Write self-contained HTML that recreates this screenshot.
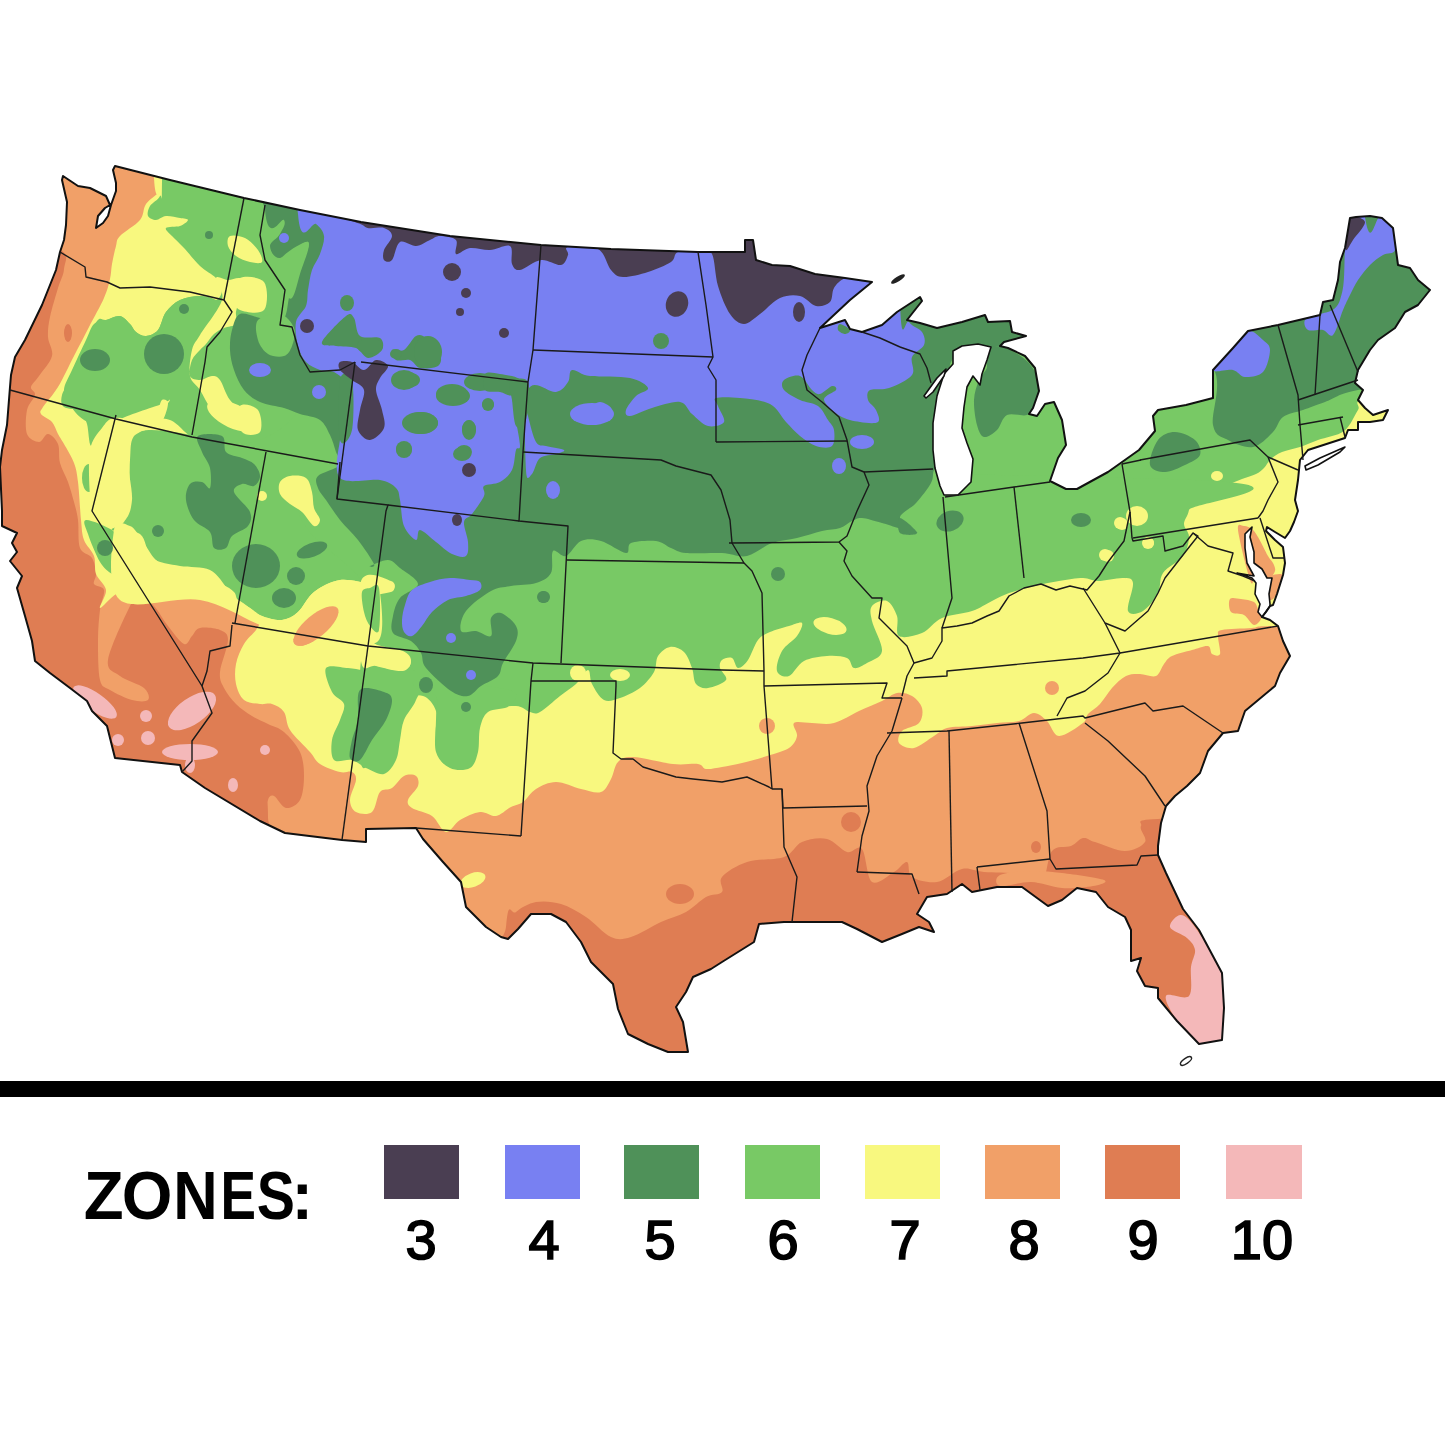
<!DOCTYPE html>
<html><head><meta charset="utf-8"><style>
html,body{margin:0;padding:0;background:#fff;}
body{width:1445px;height:1445px;overflow:hidden;position:relative;}
svg{position:absolute;left:0;top:0;}
</style></head><body>
<svg width="1445" height="1445" viewBox="0 0 1445 1445">
<defs><clipPath id="us"><path d="M62,180 L63,176 L78,186 L90,188 L98,192 L106,196 L110,205 L105,208 L98,216 L96,228 L103,223 L108,216 L111,205 L116,191 L116,183 L113,170 L115,166 L170,180 L244,198 L300,210 L361,222 L450,236 L541,245 L611,249 L698,252 L745,252 L745,240 L753,240 L756,260 L772,265 L790,266 L815,274 L845,278 L872,282 L850,300 L835,314 L820,328 L845,320 L850,329 L862,332 L882,325 L897,312 L920,297 L922,301 L907,320 L920,323 L937,328 L962,322 L985,315 L988,322 L1010,321 L1012,332 L1026,336 L1004,342 L1000,346 L1008,348 L1025,356 L1035,368 L1039,391 L1033,408 L1029,414 L1037,416 L1045,404 L1054,402 L1062,420 L1066,445 L1058,458 L1050,481 L1066,489 L1077,489 L1108,472 L1139,450 L1155,431 L1153,416 L1158,410 L1186,405 L1213,398 L1213,370 L1233,348 L1248,331 L1278,325 L1320,315 L1323,302 L1333,300 L1338,280 L1340,262 L1345,248 L1350,218 L1356,217 L1370,216 L1382,218 L1393,228 L1398,265 L1410,268 L1418,280 L1430,290 L1418,305 L1405,312 L1395,328 L1378,340 L1370,350 L1358,370 L1355,383 L1363,390 L1358,400 L1365,408 L1373,415 L1388,410 L1383,420 L1370,422 L1358,422 L1358,430 L1348,430 L1345,438 L1308,450 L1300,460 L1298,480 L1295,500 L1298,511 L1294,522 L1290,531 L1285,538 L1275,532 L1267,527 L1266,531 L1275,540 L1283,547 L1285,563 L1283,575 L1277,594 L1273,605 L1270,606 L1266,612 L1262,617 L1270,620 L1278,626 L1283,641 L1290,656 L1280,673 L1275,686 L1245,711 L1238,731 L1223,733 L1208,751 L1200,773 L1187,786 L1175,796 L1166,806 L1161,823 L1158,846 L1158,855 L1166,873 L1183,909 L1199,930 L1222,973 L1224,1008 L1222,1040 L1199,1044 L1177,1021 L1158,998 L1158,988 L1145,986 L1137,971 L1141,958 L1131,961 L1131,930 L1125,917 L1108,907 L1096,892 L1077,888 L1062,900 L1048,906 L1022,887 L997,887 L972,892 L962,884 L947,894 L927,897 L917,914 L929,922 L934,932 L919,927 L902,934 L882,942 L857,929 L842,922 L812,922 L784,922 L759,924 L754,942 L722,962 L711,969 L693,977 L686,992 L676,1007 L683,1022 L688,1052 L668,1052 L648,1044 L628,1034 L618,1009 L613,984 L591,962 L581,942 L566,922 L551,914 L531,914 L518,929 L508,939 L501,937 L486,927 L466,907 L461,882 L443,862 L423,839 L416,828 L366,829 L366,842 L342,840 L285,833 L260,821 L205,788 L182,772 L180,765 L115,758 L112,746 L107,726 L92,711 L87,701 L70,688 L50,673 L35,661 L32,641 L25,616 L17,588 L22,576 L10,561 L17,552 L12,543 L17,533 L2,526 L2,511 L0,467 L2,450 L7,425 L10,387 L11,375 L15,357 L25,340 L42,305 L56,270 L60,252 L64,240 L66,225 L67,202Z"/></clipPath>
</defs>
<rect width="1445" height="1445" fill="#fff"/>
<g clip-path="url(#us)">
<rect x="0" y="0" width="1445" height="1100" fill="#f1a068"/>
<path d="M0.0,240.0 C10.0,131.7 49.3,245.2 60.0,250.0 C70.7,254.8 64.3,262.7 64.0,269.0 C63.7,275.3 60.3,280.0 58.0,288.0 C55.7,296.0 51.7,308.8 50.0,317.0 C48.3,325.2 47.7,330.5 48.0,337.0 C48.3,343.5 53.5,349.5 52.0,356.0 C50.5,362.5 42.5,370.8 39.0,376.0 C35.5,381.2 31.7,383.8 31.0,387.0 C30.3,390.2 35.7,391.2 35.0,395.0 C34.3,398.8 28.3,403.5 27.0,410.0 C25.7,416.5 25.0,428.7 27.0,434.0 C29.0,439.3 35.5,442.0 39.0,442.0 C42.5,442.0 44.8,433.7 48.0,434.0 C51.2,434.3 56.0,439.2 58.0,444.0 C60.0,448.8 58.3,456.7 60.0,463.0 C61.7,469.3 65.7,475.5 68.0,482.0 C70.3,488.5 72.3,495.7 74.0,502.0 C75.7,508.3 77.0,512.3 78.0,520.0 C79.0,527.7 77.7,541.7 80.0,548.0 C82.3,554.3 89.3,553.7 92.0,558.0 C94.7,562.3 95.7,569.7 96.0,574.0 C96.3,578.3 92.7,581.3 94.0,584.0 C95.3,586.7 103.0,585.7 104.0,590.0 C105.0,594.3 101.0,601.7 100.0,610.0 C99.0,618.3 98.0,628.3 98.0,640.0 C98.0,651.7 98.0,671.7 100.0,680.0 C102.0,688.3 104.7,686.7 110.0,690.0 C115.3,693.3 125.7,698.3 132.0,700.0 C138.3,701.7 146.0,702.0 148.0,700.0 C150.0,698.0 148.7,692.0 144.0,688.0 C139.3,684.0 126.0,680.7 120.0,676.0 C114.0,671.3 106.3,671.7 108.0,660.0 C109.7,648.3 124.7,616.7 130.0,606.0 C135.3,595.3 136.0,596.0 140.0,596.0 C144.0,596.0 149.3,601.0 154.0,606.0 C158.7,611.0 163.0,619.7 168.0,626.0 C173.0,632.3 180.0,642.3 184.0,644.0 C188.0,645.7 189.3,638.7 192.0,636.0 C194.7,633.3 195.3,629.0 200.0,628.0 C204.7,627.0 215.3,628.0 220.0,630.0 C224.7,632.0 228.0,633.0 228.0,640.0 C228.0,647.0 220.7,664.0 220.0,672.0 C219.3,680.0 221.3,682.7 224.0,688.0 C226.7,693.3 231.3,699.3 236.0,704.0 C240.7,708.7 246.7,712.7 252.0,716.0 C257.3,719.3 262.7,721.3 268.0,724.0 C273.3,726.7 278.7,727.3 284.0,732.0 C289.3,736.7 296.7,744.7 300.0,752.0 C303.3,759.3 304.0,768.0 304.0,776.0 C304.0,784.0 303.0,794.7 300.0,800.0 C297.0,805.3 290.3,808.7 286.0,808.0 C281.7,807.3 277.0,797.3 274.0,796.0 C271.0,794.7 269.0,796.3 268.0,800.0 C267.0,803.7 268.0,801.3 268.0,818.0 C268.0,834.7 312.7,886.3 268.0,900.0 C223.3,913.7 44.7,1010.0 0.0,900.0 C-44.7,790.0 -10.0,348.3 0.0,240.0Z" fill="#df7d53"/>
<ellipse cx="68.0" cy="333.0" rx="4.0" ry="9.0" transform="rotate(0 68.0 333.0)" fill="#df7d53"/>
<path d="M506.0,927.0 C508.7,895.7 511.0,916.2 516.0,912.0 C521.0,907.8 528.5,903.3 536.0,902.0 C543.5,900.7 552.7,901.5 561.0,904.0 C569.3,906.5 577.7,911.5 586.0,917.0 C594.3,922.5 603.5,933.7 611.0,937.0 C618.5,940.3 622.7,939.5 631.0,937.0 C639.3,934.5 651.8,926.2 661.0,922.0 C670.2,917.8 678.5,916.2 686.0,912.0 C693.5,907.8 700.0,900.3 706.0,897.0 C712.0,893.7 719.3,895.3 722.0,892.0 C724.7,888.7 717.8,882.0 722.0,877.0 C726.2,872.0 736.7,865.3 747.0,862.0 C757.3,858.7 774.8,860.3 784.0,857.0 C793.2,853.7 794.8,845.0 802.0,842.0 C809.2,839.0 819.5,837.3 827.0,839.0 C834.5,840.7 841.2,850.3 847.0,852.0 C852.8,853.7 857.8,844.0 862.0,849.0 C866.2,854.0 866.7,878.2 872.0,882.0 C877.3,885.8 888.2,875.3 894.0,872.0 C899.8,868.7 904.0,861.2 907.0,862.0 C910.0,862.8 907.0,873.7 912.0,877.0 C917.0,880.3 928.7,883.3 937.0,882.0 C945.3,880.7 954.2,870.7 962.0,869.0 C969.8,867.3 974.0,871.2 984.0,872.0 C994.0,872.8 1012.3,872.3 1022.0,874.0 C1031.7,875.7 1037.0,885.8 1042.0,882.0 C1047.0,878.2 1047.2,857.0 1052.0,851.0 C1056.8,845.0 1065.8,848.2 1071.0,846.0 C1076.2,843.8 1079.0,838.7 1083.0,838.0 C1087.0,837.3 1088.0,839.8 1095.0,842.0 C1102.0,844.2 1116.7,851.0 1125.0,851.0 C1133.3,851.0 1142.3,846.2 1145.0,842.0 C1147.7,837.8 1138.8,829.8 1141.0,826.0 C1143.2,822.2 1131.5,820.2 1158.0,819.0 C1184.5,817.8 1276.3,772.2 1300.0,819.0 C1323.7,865.8 1433.3,1053.2 1300.0,1100.0 C1166.7,1146.8 632.3,1128.8 500.0,1100.0 C367.7,1071.2 503.3,958.3 506.0,927.0Z" fill="#df7d53"/>
<ellipse cx="680.0" cy="894.0" rx="14.0" ry="10.0" transform="rotate(0 680.0 894.0)" fill="#df7d53"/>
<ellipse cx="851.0" cy="822.0" rx="10.0" ry="10.0" transform="rotate(0 851.0 822.0)" fill="#df7d53"/>
<ellipse cx="1036.0" cy="847.0" rx="5.0" ry="6.0" transform="rotate(0 1036.0 847.0)" fill="#df7d53"/>
<path d="M1000.0,875.0 C1005.2,872.5 1020.7,871.3 1031.0,871.0 C1041.3,870.7 1049.8,871.5 1062.0,873.0 C1074.2,874.5 1098.8,877.8 1104.0,880.0 C1109.2,882.2 1100.0,884.7 1093.0,886.0 C1086.0,887.3 1072.3,888.7 1062.0,888.0 C1051.7,887.3 1041.3,882.3 1031.0,882.0 C1020.7,881.7 1005.2,887.2 1000.0,886.0 C994.8,884.8 994.8,877.5 1000.0,875.0Z" fill="#f1a068"/>
<ellipse cx="95.0" cy="702.0" rx="26.0" ry="9.0" transform="rotate(35.0 95.0 702.0)" fill="#f4b8b9"/>
<ellipse cx="118.0" cy="740.0" rx="6.0" ry="6.0" transform="rotate(0 118.0 740.0)" fill="#f4b8b9"/>
<ellipse cx="146.0" cy="716.0" rx="6.0" ry="6.0" transform="rotate(0 146.0 716.0)" fill="#f4b8b9"/>
<ellipse cx="148.0" cy="738.0" rx="7.0" ry="7.0" transform="rotate(0 148.0 738.0)" fill="#f4b8b9"/>
<ellipse cx="192.0" cy="711.0" rx="28.0" ry="13.0" transform="rotate(-35.0 192.0 711.0)" fill="#f4b8b9"/>
<ellipse cx="190.0" cy="752.0" rx="28.0" ry="8.0" transform="rotate(0 190.0 752.0)" fill="#f4b8b9"/>
<ellipse cx="190.0" cy="765.0" rx="5.0" ry="8.0" transform="rotate(0 190.0 765.0)" fill="#f4b8b9"/>
<ellipse cx="265.0" cy="750.0" rx="5.0" ry="5.0" transform="rotate(0 265.0 750.0)" fill="#f4b8b9"/>
<ellipse cx="233.0" cy="785.0" rx="5.0" ry="7.0" transform="rotate(0 233.0 785.0)" fill="#f4b8b9"/>
<path d="M1170.0,927.0 C1169.0,923.2 1176.5,914.5 1181.0,915.0 C1185.5,915.5 1189.8,919.3 1197.0,930.0 C1204.2,940.7 1219.2,959.8 1224.0,979.0 C1228.8,998.2 1230.2,1033.2 1226.0,1045.0 C1221.8,1056.8 1207.2,1054.0 1199.0,1050.0 C1190.8,1046.0 1182.5,1030.0 1177.0,1021.0 C1171.5,1012.0 1164.0,1000.2 1166.0,996.0 C1168.0,991.8 1184.8,1000.8 1189.0,996.0 C1193.2,991.2 1190.0,974.7 1191.0,967.0 C1192.0,959.3 1195.7,954.8 1195.0,950.0 C1194.3,945.2 1191.2,941.8 1187.0,938.0 C1182.8,934.2 1171.0,930.8 1170.0,927.0Z" fill="#f4b8b9"/>
<path d="M150.0,0.0 C-65.2,29.7 152.3,146.3 154.0,178.0 C155.7,209.7 161.3,185.7 160.0,190.0 C158.7,194.3 149.3,199.0 146.0,204.0 C142.7,209.0 144.3,214.7 140.0,220.0 C135.7,225.3 124.0,231.7 120.0,236.0 C116.0,240.3 117.3,241.3 116.0,246.0 C114.7,250.7 113.0,258.5 112.0,264.0 C111.0,269.5 111.3,273.3 110.0,279.0 C108.7,284.7 107.5,290.0 104.0,298.0 C100.5,306.0 94.0,317.3 89.0,327.0 C84.0,336.7 79.2,346.0 74.0,356.0 C68.8,366.0 63.2,378.5 58.0,387.0 C52.8,395.5 45.8,402.5 43.0,407.0 C40.2,411.5 39.5,411.5 41.0,414.0 C42.5,416.5 49.2,418.7 52.0,422.0 C54.8,425.3 56.0,430.3 58.0,434.0 C60.0,437.7 61.3,439.2 64.0,444.0 C66.7,448.8 71.7,456.7 74.0,463.0 C76.3,469.3 76.8,472.5 78.0,482.0 C79.2,491.5 80.0,510.3 81.0,520.0 C82.0,529.7 81.8,534.0 84.0,540.0 C86.2,546.0 92.0,550.3 94.0,556.0 C96.0,561.7 94.0,568.3 96.0,574.0 C98.0,579.7 105.3,584.3 106.0,590.0 C106.7,595.7 98.3,607.3 100.0,608.0 C101.7,608.7 110.0,597.7 116.0,594.0 C122.0,590.3 128.0,587.3 136.0,586.0 C144.0,584.7 153.3,585.0 164.0,586.0 C174.7,587.0 188.7,589.0 200.0,592.0 C211.3,595.0 223.3,600.7 232.0,604.0 C240.7,607.3 247.3,609.3 252.0,612.0 C256.7,614.7 259.3,617.0 260.0,620.0 C260.7,623.0 258.7,626.0 256.0,630.0 C253.3,634.0 247.3,638.3 244.0,644.0 C240.7,649.7 237.3,657.3 236.0,664.0 C234.7,670.7 234.7,678.0 236.0,684.0 C237.3,690.0 240.0,696.7 244.0,700.0 C248.0,703.3 255.3,703.3 260.0,704.0 C264.7,704.7 268.0,702.7 272.0,704.0 C276.0,705.3 281.0,707.7 284.0,712.0 C287.0,716.3 285.7,723.3 290.0,730.0 C294.3,736.7 305.0,746.3 310.0,752.0 C315.0,757.7 315.0,760.7 320.0,764.0 C325.0,767.3 334.7,770.7 340.0,772.0 C345.3,773.3 349.3,770.7 352.0,772.0 C354.7,773.3 356.3,775.3 356.0,780.0 C355.7,784.7 350.0,794.7 350.0,800.0 C350.0,805.3 352.3,810.0 356.0,812.0 C359.7,814.0 368.0,815.3 372.0,812.0 C376.0,808.7 376.7,796.0 380.0,792.0 C383.3,788.0 388.0,790.7 392.0,788.0 C396.0,785.3 400.0,778.0 404.0,776.0 C408.0,774.0 413.7,774.3 416.0,776.0 C418.3,777.7 419.3,782.0 418.0,786.0 C416.7,790.0 409.0,796.3 408.0,800.0 C407.0,803.7 408.0,805.3 412.0,808.0 C416.0,810.7 426.3,812.0 432.0,816.0 C437.7,820.0 441.3,831.3 446.0,832.0 C450.7,832.7 454.3,823.3 460.0,820.0 C465.7,816.7 474.0,812.7 480.0,812.0 C486.0,811.3 490.8,816.8 496.0,816.0 C501.2,815.2 506.5,809.3 511.0,807.0 C515.5,804.7 518.8,805.0 523.0,802.0 C527.2,799.0 530.5,792.3 536.0,789.0 C541.5,785.7 548.5,782.0 556.0,782.0 C563.5,782.0 573.5,787.3 581.0,789.0 C588.5,790.7 596.0,793.7 601.0,792.0 C606.0,790.3 608.2,784.0 611.0,779.0 C613.8,774.0 614.3,765.7 618.0,762.0 C621.7,758.3 623.8,756.7 633.0,757.0 C642.2,757.3 662.2,762.8 673.0,764.0 C683.8,765.2 692.5,763.2 698.0,764.0 C703.5,764.8 702.0,768.5 706.0,769.0 C710.0,769.5 716.0,768.0 722.0,767.0 C728.0,766.0 734.5,764.8 742.0,763.0 C749.5,761.2 759.2,758.5 767.0,756.0 C774.8,753.5 784.0,751.3 789.0,748.0 C794.0,744.7 796.2,740.2 797.0,736.0 C797.8,731.8 791.5,725.2 794.0,723.0 C796.5,720.8 805.3,723.0 812.0,723.0 C818.7,723.0 826.2,725.0 834.0,723.0 C841.8,721.0 851.0,714.7 859.0,711.0 C867.0,707.3 875.7,704.0 882.0,701.0 C888.3,698.0 892.0,693.8 897.0,693.0 C902.0,692.2 907.8,693.5 912.0,696.0 C916.2,698.5 920.8,703.5 922.0,708.0 C923.2,712.5 922.3,719.2 919.0,723.0 C915.7,726.8 905.3,727.7 902.0,731.0 C898.7,734.3 897.0,740.2 899.0,743.0 C901.0,745.8 908.2,749.2 914.0,748.0 C919.8,746.8 928.5,739.3 934.0,736.0 C939.5,732.7 940.7,729.7 947.0,728.0 C953.3,726.3 963.7,726.8 972.0,726.0 C980.3,725.2 989.2,723.8 997.0,723.0 C1004.8,722.2 1012.8,722.7 1019.0,721.0 C1025.2,719.3 1029.3,713.0 1034.0,713.0 C1038.7,713.0 1042.8,717.2 1047.0,721.0 C1051.2,724.8 1053.0,735.7 1059.0,736.0 C1065.0,736.3 1078.2,726.7 1083.0,723.0 C1087.8,719.3 1085.2,717.2 1088.0,714.0 C1090.8,710.8 1096.0,708.3 1100.0,704.0 C1104.0,699.7 1107.7,692.7 1112.0,688.0 C1116.3,683.3 1121.3,678.3 1126.0,676.0 C1130.7,673.7 1135.0,674.0 1140.0,674.0 C1145.0,674.0 1152.0,677.7 1156.0,676.0 C1160.0,674.3 1161.3,667.3 1164.0,664.0 C1166.7,660.7 1167.3,658.3 1172.0,656.0 C1176.7,653.7 1186.0,651.7 1192.0,650.0 C1198.0,648.3 1204.7,645.3 1208.0,646.0 C1211.3,646.7 1210.0,652.7 1212.0,654.0 C1214.0,655.3 1219.0,657.0 1220.0,654.0 C1221.0,651.0 1217.7,640.0 1218.0,636.0 C1218.3,632.0 1216.3,631.3 1222.0,630.0 C1227.7,628.7 1242.3,628.7 1252.0,628.0 C1261.7,627.3 1247.8,626.3 1280.0,626.0 C1312.2,625.7 1417.5,730.3 1445.0,626.0 C1472.5,521.7 1660.8,104.3 1445.0,0.0 C1229.2,-104.3 365.2,-29.7 150.0,0.0Z" fill="#f8f87f"/>
<ellipse cx="473.0" cy="880.0" rx="13.0" ry="7.0" transform="rotate(-20.0 473.0 880.0)" fill="#f8f87f"/>
<ellipse cx="316.0" cy="626.0" rx="28.0" ry="11.0" transform="rotate(-40.0 316.0 626.0)" fill="#f1a068"/>
<ellipse cx="767.0" cy="726.0" rx="8.0" ry="8.0" transform="rotate(0 767.0 726.0)" fill="#f1a068"/>
<ellipse cx="1052.0" cy="688.0" rx="7.0" ry="7.0" transform="rotate(0 1052.0 688.0)" fill="#f1a068"/>
<path d="M1238.0,530.0 C1237.0,521.0 1241.7,526.2 1244.0,526.0 C1246.3,525.8 1249.7,527.2 1252.0,529.0 C1254.3,530.8 1255.3,532.5 1258.0,537.0 C1260.7,541.5 1265.5,551.7 1268.0,556.0 C1270.5,560.3 1271.8,560.5 1273.0,563.0 C1274.2,565.5 1275.8,568.5 1275.0,571.0 C1274.2,573.5 1271.2,579.0 1268.0,578.0 C1264.8,577.0 1258.3,565.0 1256.0,565.0 C1253.7,565.0 1255.0,575.5 1254.0,578.0 C1253.0,580.5 1252.7,588.0 1250.0,580.0 C1247.3,572.0 1239.0,539.0 1238.0,530.0Z" fill="#f1a068"/>
<path d="M1266.0,578.0 C1268.5,575.5 1281.2,572.3 1283.0,575.0 C1284.8,577.7 1279.2,589.8 1277.0,594.0 C1274.8,598.2 1271.5,600.7 1270.0,600.0 C1268.5,599.3 1268.7,593.7 1268.0,590.0 C1267.3,586.3 1263.5,580.5 1266.0,578.0Z" fill="#f1a068"/>
<path d="M1230.0,599.0 C1231.7,596.8 1237.0,598.5 1241.0,599.0 C1245.0,599.5 1251.2,600.3 1254.0,602.0 C1256.8,603.7 1256.7,606.5 1258.0,609.0 C1259.3,611.5 1262.7,614.3 1262.0,617.0 C1261.3,619.7 1257.0,625.3 1254.0,625.0 C1251.0,624.7 1247.8,617.2 1244.0,615.0 C1240.2,612.8 1233.3,614.7 1231.0,612.0 C1228.7,609.3 1228.3,601.2 1230.0,599.0Z" fill="#f1a068"/>
<path d="M162.0,0.0 C-51.8,30.0 162.3,147.3 162.0,180.0 C161.7,212.7 162.0,191.7 160.0,196.0 C158.0,200.3 152.0,202.7 150.0,206.0 C148.0,209.3 147.0,213.7 148.0,216.0 C149.0,218.3 153.0,220.0 156.0,220.0 C159.0,220.0 162.0,216.3 166.0,216.0 C170.0,215.7 176.3,217.3 180.0,218.0 C183.7,218.7 188.0,218.7 188.0,220.0 C188.0,221.3 183.7,224.7 180.0,226.0 C176.3,227.3 167.3,226.3 166.0,228.0 C164.7,229.7 169.0,232.7 172.0,236.0 C175.0,239.3 179.3,243.0 184.0,248.0 C188.7,253.0 194.7,261.0 200.0,266.0 C205.3,271.0 212.3,274.0 216.0,278.0 C219.7,282.0 222.0,286.3 222.0,290.0 C222.0,293.7 219.7,299.0 216.0,300.0 C212.3,301.0 206.0,296.0 200.0,296.0 C194.0,296.0 185.7,297.3 180.0,300.0 C174.3,302.7 169.7,307.0 166.0,312.0 C162.3,317.0 161.3,326.0 158.0,330.0 C154.7,334.0 149.7,335.7 146.0,336.0 C142.3,336.3 138.7,334.0 136.0,332.0 C133.3,330.0 132.7,326.7 130.0,324.0 C127.3,321.3 124.0,316.7 120.0,316.0 C116.0,315.3 110.3,318.7 106.0,320.0 C101.7,321.3 97.3,320.7 94.0,324.0 C90.7,327.3 89.7,332.3 86.0,340.0 C82.3,347.7 75.7,361.7 72.0,370.0 C68.3,378.3 64.3,384.2 64.0,390.0 C63.7,395.8 66.7,400.0 70.0,405.0 C73.3,410.0 77.3,415.8 84.0,420.0 C90.7,424.2 100.7,430.3 110.0,430.0 C119.3,429.7 131.7,421.3 140.0,418.0 C148.3,414.7 150.0,408.0 160.0,410.0 C170.0,412.0 176.7,421.3 200.0,430.0 C223.3,438.7 270.0,453.3 300.0,462.0 C330.0,470.7 363.3,480.7 380.0,482.0 C396.7,483.3 363.3,475.3 400.0,470.0 C436.7,464.7 546.3,453.3 600.0,450.0 C653.7,446.7 701.7,432.3 722.0,450.0 C742.3,467.7 709.0,537.7 722.0,556.0 C735.0,574.3 770.3,569.3 800.0,560.0 C829.7,550.7 866.7,510.0 900.0,500.0 C933.3,490.0 951.2,500.0 1000.0,500.0 C1048.8,500.0 1159.8,500.7 1193.0,500.0 C1226.2,499.3 1195.7,498.0 1199.0,496.0 C1202.3,494.0 1208.3,489.8 1213.0,488.0 C1217.7,486.2 1222.2,486.5 1227.0,485.0 C1231.8,483.5 1237.2,480.8 1242.0,479.0 C1246.8,477.2 1252.3,475.8 1256.0,474.0 C1259.7,472.2 1261.5,470.5 1264.0,468.0 C1266.5,465.5 1268.0,461.7 1271.0,459.0 C1274.0,456.3 1277.2,454.0 1282.0,452.0 C1286.8,450.0 1294.0,449.0 1300.0,447.0 C1306.0,445.0 1310.7,442.7 1318.0,440.0 C1325.3,437.3 1337.3,436.0 1344.0,431.0 C1350.7,426.0 1354.5,415.2 1358.0,410.0 C1361.5,404.8 1350.5,401.7 1365.0,400.0 C1379.5,398.3 1431.7,466.7 1445.0,400.0 C1458.3,333.3 1658.8,66.7 1445.0,0.0 C1231.2,-66.7 375.8,-30.0 162.0,0.0Z" fill="#78c965"/>
<path d="M64.0,407.0 C60.8,404.3 60.7,400.2 62.0,395.0 C63.3,389.8 68.5,383.7 72.0,376.0 C75.5,368.3 78.8,358.2 83.0,349.0 C87.2,339.8 93.2,325.8 97.0,321.0 C100.8,316.2 102.2,320.8 106.0,320.0 C109.8,319.2 116.0,315.3 120.0,316.0 C124.0,316.7 127.3,321.3 130.0,324.0 C132.7,326.7 133.3,330.0 136.0,332.0 C138.7,334.0 142.3,336.3 146.0,336.0 C149.7,335.7 154.7,334.0 158.0,330.0 C161.3,326.0 162.3,317.0 166.0,312.0 C169.7,307.0 174.3,302.7 180.0,300.0 C185.7,297.3 194.0,296.0 200.0,296.0 C206.0,296.0 211.3,297.3 216.0,300.0 C220.7,302.7 224.7,308.0 228.0,312.0 C231.3,316.0 232.3,319.3 236.0,324.0 C239.7,328.7 239.3,327.3 250.0,340.0 C260.7,352.7 298.3,383.3 300.0,400.0 C301.7,416.7 276.7,433.3 260.0,440.0 C243.3,446.7 215.0,443.3 200.0,440.0 C185.0,436.7 180.0,423.7 170.0,420.0 C160.0,416.3 148.3,419.0 140.0,418.0 C131.7,417.0 125.8,414.0 120.0,414.0 C114.2,414.0 108.2,414.7 105.0,418.0 C101.8,421.3 103.3,429.3 101.0,434.0 C98.7,438.7 93.3,447.7 91.0,446.0 C88.7,444.3 88.7,429.8 87.0,424.0 C85.3,418.2 84.8,413.8 81.0,411.0 C77.2,408.2 67.2,409.7 64.0,407.0Z" fill="#78c965"/>
<ellipse cx="89.0" cy="478.0" rx="7.0" ry="14.0" transform="rotate(0 89.0 478.0)" fill="#78c965"/>
<path d="M132.0,436.0 C120.7,446.7 133.3,485.7 132.0,500.0 C130.7,514.3 127.3,517.0 124.0,522.0 C120.7,527.0 109.3,528.0 112.0,530.0 C114.7,532.0 133.3,529.3 140.0,534.0 C146.7,538.7 145.3,552.7 152.0,558.0 C158.7,563.3 170.3,564.0 180.0,566.0 C189.7,568.0 202.0,566.0 210.0,570.0 C218.0,574.0 224.0,584.7 228.0,590.0 C232.0,595.3 232.3,600.3 234.0,602.0 C235.7,603.7 235.3,599.0 238.0,600.0 C240.7,601.0 246.0,605.3 250.0,608.0 C254.0,610.7 256.7,614.0 262.0,616.0 C267.3,618.0 276.0,620.7 282.0,620.0 C288.0,619.3 292.7,616.7 298.0,612.0 C303.3,607.3 307.0,597.3 314.0,592.0 C321.0,586.7 330.7,581.3 340.0,580.0 C349.3,578.7 363.5,583.0 370.0,584.0 C376.5,585.0 377.5,606.0 379.0,586.0 C380.5,566.0 385.8,484.3 379.0,464.0 C372.2,443.7 367.8,468.7 338.0,464.0 C308.2,459.3 234.3,440.7 200.0,436.0 C165.7,431.3 143.3,425.3 132.0,436.0Z" fill="#78c965"/>
<path d="M86.0,520.0 C82.0,520.7 85.7,527.0 88.0,534.0 C90.3,541.0 96.0,555.3 100.0,562.0 C104.0,568.7 108.0,571.3 112.0,574.0 C116.0,576.7 121.0,578.7 124.0,578.0 C127.0,577.3 129.3,574.0 130.0,570.0 C130.7,566.0 130.3,559.0 128.0,554.0 C125.7,549.0 118.7,544.0 116.0,540.0 C113.3,536.0 117.0,533.3 112.0,530.0 C107.0,526.7 90.0,519.3 86.0,520.0Z" fill="#78c965"/>
<path d="M361.0,581.0 C363.5,600.3 374.8,591.0 376.0,596.0 C377.2,601.0 368.8,603.5 368.0,611.0 C367.2,618.5 365.2,634.3 371.0,641.0 C376.8,647.7 396.3,647.7 403.0,651.0 C409.7,654.3 411.0,657.7 411.0,661.0 C411.0,664.3 408.8,670.2 403.0,671.0 C397.2,671.8 383.0,667.7 376.0,666.0 C369.0,664.3 363.5,644.8 361.0,661.0 C358.5,677.2 358.5,748.0 361.0,763.0 C363.5,778.0 371.8,757.2 376.0,751.0 C380.2,744.8 381.5,734.3 386.0,726.0 C390.5,717.7 396.8,706.0 403.0,701.0 C409.2,696.0 417.5,694.3 423.0,696.0 C428.5,697.7 433.8,704.3 436.0,711.0 C438.2,717.7 434.8,727.3 436.0,736.0 C437.2,744.7 438.8,758.8 443.0,763.0 C447.2,767.2 455.5,762.2 461.0,761.0 C466.5,759.8 473.5,761.0 476.0,756.0 C478.5,751.0 474.3,738.5 476.0,731.0 C477.7,723.5 479.3,715.2 486.0,711.0 C492.7,706.8 508.7,705.8 516.0,706.0 C523.3,706.2 526.0,711.0 530.0,712.0 C534.0,713.0 535.0,714.7 540.0,712.0 C545.0,709.3 554.0,700.7 560.0,696.0 C566.0,691.3 571.3,688.3 576.0,684.0 C580.7,679.7 585.3,670.0 588.0,670.0 C590.7,670.0 589.3,679.0 592.0,684.0 C594.7,689.0 599.3,697.7 604.0,700.0 C608.7,702.3 614.0,700.0 620.0,698.0 C626.0,696.0 634.3,692.3 640.0,688.0 C645.7,683.7 651.0,677.3 654.0,672.0 C657.0,666.7 655.3,660.2 658.0,656.0 C660.7,651.8 665.7,647.7 670.0,647.0 C674.3,646.3 680.3,648.5 684.0,652.0 C687.7,655.5 690.0,662.7 692.0,668.0 C694.0,673.3 693.3,680.7 696.0,684.0 C698.7,687.3 703.0,688.7 708.0,688.0 C713.0,687.3 724.0,683.3 726.0,680.0 C728.0,676.7 720.7,671.3 720.0,668.0 C719.3,664.7 720.0,661.7 722.0,660.0 C724.0,658.3 729.3,656.7 732.0,658.0 C734.7,659.3 735.3,667.7 738.0,668.0 C740.7,668.3 744.7,664.7 748.0,660.0 C751.3,655.3 754.3,644.7 758.0,640.0 C761.7,635.3 764.8,634.3 770.0,632.0 C775.2,629.7 783.7,627.5 789.0,626.0 C794.3,624.5 800.7,621.3 802.0,623.0 C803.3,624.7 800.3,631.3 797.0,636.0 C793.7,640.7 785.3,645.2 782.0,651.0 C778.7,656.8 775.8,666.8 777.0,671.0 C778.2,675.2 784.5,677.7 789.0,676.0 C793.5,674.3 797.7,664.3 804.0,661.0 C810.3,657.7 819.8,656.5 827.0,656.0 C834.2,655.5 842.5,656.0 847.0,658.0 C851.5,660.0 850.7,667.2 854.0,668.0 C857.3,668.8 862.3,665.8 867.0,663.0 C871.7,660.2 881.2,658.0 882.0,651.0 C882.8,644.0 873.7,628.5 872.0,621.0 C870.3,613.5 869.5,609.3 872.0,606.0 C874.5,602.7 882.8,599.3 887.0,601.0 C891.2,602.7 895.0,610.2 897.0,616.0 C899.0,621.8 894.8,633.2 899.0,636.0 C903.2,638.8 914.8,636.0 922.0,633.0 C929.2,630.0 933.7,621.7 942.0,618.0 C950.3,614.3 963.7,613.8 972.0,611.0 C980.3,608.2 985.8,604.0 992.0,601.0 C998.2,598.0 1002.0,595.5 1009.0,593.0 C1016.0,590.5 1025.7,588.0 1034.0,586.0 C1042.3,584.0 1050.8,582.3 1059.0,581.0 C1067.2,579.7 1076.5,578.0 1083.0,578.0 C1089.5,578.0 1091.3,581.0 1098.0,581.0 C1104.7,581.0 1117.2,577.7 1123.0,578.0 C1128.8,578.3 1132.2,577.5 1133.0,583.0 C1133.8,588.5 1126.3,606.3 1128.0,611.0 C1129.7,615.7 1138.0,614.0 1143.0,611.0 C1148.0,608.0 1154.7,599.3 1158.0,593.0 C1161.3,586.7 1158.8,579.2 1163.0,573.0 C1167.2,566.8 1178.7,562.0 1183.0,556.0 C1187.3,550.0 1188.8,542.3 1189.0,537.0 C1189.2,531.7 1184.0,528.5 1184.0,524.0 C1184.0,519.5 1187.5,517.3 1189.0,510.0 C1190.5,502.7 1331.0,485.0 1193.0,480.0 C1055.0,475.0 499.7,463.2 361.0,480.0 C222.3,496.8 358.5,561.7 361.0,581.0Z" fill="#78c965"/>
<path d="M326.0,668.0 C328.7,664.0 341.7,667.7 348.0,668.0 C354.3,668.3 359.3,670.3 364.0,670.0 C368.7,669.7 370.0,666.0 376.0,666.0 C382.0,666.0 394.0,671.7 400.0,670.0 C406.0,668.3 410.7,660.0 412.0,656.0 C413.3,652.0 411.3,647.7 408.0,646.0 C404.7,644.3 396.7,647.0 392.0,646.0 C387.3,645.0 383.7,641.0 380.0,640.0 C376.3,639.0 363.3,634.0 370.0,640.0 C376.7,646.0 412.3,666.0 420.0,676.0 C427.7,686.0 418.7,692.7 416.0,700.0 C413.3,707.3 406.7,713.3 404.0,720.0 C401.3,726.7 401.3,733.3 400.0,740.0 C398.7,746.7 398.7,754.3 396.0,760.0 C393.3,765.7 389.0,772.7 384.0,774.0 C379.0,775.3 371.3,770.3 366.0,768.0 C360.7,765.7 357.3,761.3 352.0,760.0 C346.7,758.7 337.3,763.3 334.0,760.0 C330.7,756.7 331.0,746.7 332.0,740.0 C333.0,733.3 338.0,726.0 340.0,720.0 C342.0,714.0 345.3,708.7 344.0,704.0 C342.7,699.3 335.0,698.0 332.0,692.0 C329.0,686.0 323.3,672.0 326.0,668.0Z" fill="#78c965"/>
<path d="M420.0,692.0 C422.7,694.7 433.3,691.3 436.0,696.0 C438.7,700.7 436.0,710.7 436.0,720.0 C436.0,729.3 433.7,744.0 436.0,752.0 C438.3,760.0 444.3,765.3 450.0,768.0 C455.7,770.7 465.3,770.7 470.0,768.0 C474.7,765.3 476.3,758.7 478.0,752.0 C479.7,745.3 478.3,734.7 480.0,728.0 C481.7,721.3 483.2,715.7 488.0,712.0 C492.8,708.3 505.5,709.7 509.0,706.0 C512.5,702.3 523.8,694.3 509.0,690.0 C494.2,685.7 434.8,679.7 420.0,680.0 C405.2,680.3 417.3,689.3 420.0,692.0Z" fill="#78c965"/>
<path d="M216.0,278.0 C217.0,274.7 224.0,280.0 228.0,280.0 C232.0,280.0 236.3,277.3 240.0,278.0 C243.7,278.7 246.7,281.7 250.0,284.0 C253.3,286.3 257.7,288.7 260.0,292.0 C262.3,295.3 265.3,301.3 264.0,304.0 C262.7,306.7 256.0,308.0 252.0,308.0 C248.0,308.0 242.7,303.3 240.0,304.0 C237.3,304.7 236.7,308.7 236.0,312.0 C235.3,315.3 238.0,321.3 236.0,324.0 C234.0,326.7 227.7,326.3 224.0,328.0 C220.3,329.7 217.0,331.3 214.0,334.0 C211.0,336.7 208.3,341.3 206.0,344.0 C203.7,346.7 202.3,347.3 200.0,350.0 C197.7,352.7 193.7,355.7 192.0,360.0 C190.3,364.3 188.7,372.7 190.0,376.0 C191.3,379.3 196.3,380.0 200.0,380.0 C203.7,380.0 208.7,376.0 212.0,376.0 C215.3,376.0 217.0,376.0 220.0,380.0 C223.0,384.0 225.0,393.3 230.0,400.0 C235.0,406.7 245.0,415.7 250.0,420.0 C255.0,424.3 259.7,424.0 260.0,426.0 C260.3,428.0 257.0,432.0 252.0,432.0 C247.0,432.0 236.7,429.7 230.0,426.0 C223.3,422.3 217.0,416.0 212.0,410.0 C207.0,404.0 203.7,395.7 200.0,390.0 C196.3,384.3 191.3,382.7 190.0,376.0 C188.7,369.3 190.3,356.8 192.0,350.0 C193.7,343.2 195.0,343.3 200.0,335.0 C205.0,326.7 219.3,309.5 222.0,300.0 C224.7,290.5 215.0,281.3 216.0,278.0Z" fill="#f8f87f"/>
<ellipse cx="233.0" cy="416.0" rx="28.0" ry="12.0" transform="rotate(25.0 233.0 416.0)" fill="#f8f87f"/>
<path d="M230.0,236.0 C232.8,234.7 240.3,235.7 245.0,238.0 C249.7,240.3 255.2,246.0 258.0,250.0 C260.8,254.0 263.3,260.0 262.0,262.0 C260.7,264.0 254.3,263.0 250.0,262.0 C245.7,261.0 239.7,258.7 236.0,256.0 C232.3,253.3 229.0,249.3 228.0,246.0 C227.0,242.7 227.2,237.3 230.0,236.0Z" fill="#f8f87f"/>
<path d="M240.0,278.0 C245.3,275.7 260.0,276.7 264.0,282.0 C268.0,287.3 268.0,305.3 264.0,310.0 C260.0,314.7 245.3,312.3 240.0,310.0 C234.7,307.7 232.0,301.3 232.0,296.0 C232.0,290.7 234.7,280.3 240.0,278.0Z" fill="#f8f87f"/>
<path d="M240.0,406.0 C242.7,402.3 254.7,405.7 258.0,410.0 C261.3,414.3 262.7,428.3 260.0,432.0 C257.3,435.7 245.3,436.3 242.0,432.0 C238.7,427.7 237.3,409.7 240.0,406.0Z" fill="#f8f87f"/>
<path d="M114.0,418.0 C120.3,416.7 133.0,421.0 140.0,420.0 C147.0,419.0 152.3,415.3 156.0,412.0 C159.7,408.7 160.0,401.3 162.0,400.0 C164.0,398.7 168.3,400.0 168.0,404.0 C167.7,408.0 164.7,419.3 160.0,424.0 C155.3,428.7 144.7,429.3 140.0,432.0 C135.3,434.7 133.7,435.3 132.0,440.0 C130.3,444.7 130.7,450.0 130.0,460.0 C129.3,470.0 130.3,490.7 128.0,500.0 C125.7,509.3 120.3,514.0 116.0,516.0 C111.7,518.0 105.7,514.0 102.0,512.0 C98.3,510.0 96.0,506.7 94.0,504.0 C92.0,501.3 90.7,505.0 90.0,496.0 C89.3,487.0 88.0,461.3 90.0,450.0 C92.0,438.7 98.0,433.3 102.0,428.0 C106.0,422.7 107.7,419.3 114.0,418.0Z" fill="#f8f87f"/>
<path d="M114.0,530.0 C115.7,517.7 125.3,524.3 130.0,526.0 C134.7,527.7 137.7,534.3 142.0,540.0 C146.3,545.7 150.7,555.3 156.0,560.0 C161.3,564.7 166.7,565.7 174.0,568.0 C181.3,570.3 192.0,571.3 200.0,574.0 C208.0,576.7 216.3,581.0 222.0,584.0 C227.7,587.0 231.3,589.3 234.0,592.0 C236.7,594.7 235.3,597.3 238.0,600.0 C240.7,602.7 246.0,605.3 250.0,608.0 C254.0,610.7 256.7,614.0 262.0,616.0 C267.3,618.0 276.0,620.7 282.0,620.0 C288.0,619.3 292.7,616.7 298.0,612.0 C303.3,607.3 307.0,597.3 314.0,592.0 C321.0,586.7 330.7,581.3 340.0,580.0 C349.3,578.7 363.5,583.0 370.0,584.0 C376.5,585.0 377.5,576.7 379.0,586.0 C380.5,595.3 385.5,631.0 379.0,640.0 C372.5,649.0 353.2,640.0 340.0,640.0 C326.8,640.0 313.3,642.5 300.0,640.0 C286.7,637.5 276.7,631.7 260.0,625.0 C243.3,618.3 223.3,604.2 200.0,600.0 C176.7,595.8 134.3,611.7 120.0,600.0 C105.7,588.3 112.3,542.3 114.0,530.0Z" fill="#f8f87f"/>
<path d="M290.0,476.0 C294.3,475.3 302.3,475.3 306.0,478.0 C309.7,480.7 310.7,487.0 312.0,492.0 C313.3,497.0 312.7,503.3 314.0,508.0 C315.3,512.7 320.0,517.0 320.0,520.0 C320.0,523.0 317.0,527.3 314.0,526.0 C311.0,524.7 306.0,515.7 302.0,512.0 C298.0,508.3 293.7,507.0 290.0,504.0 C286.3,501.0 281.7,497.7 280.0,494.0 C278.3,490.3 278.3,485.0 280.0,482.0 C281.7,479.0 285.7,476.7 290.0,476.0Z" fill="#f8f87f"/>
<ellipse cx="262.0" cy="496.0" rx="5.0" ry="5.0" transform="rotate(0 262.0 496.0)" fill="#f8f87f"/>
<path d="M361.0,581.0 C366.0,567.7 385.7,579.3 391.0,581.0 C396.3,582.7 395.5,588.5 393.0,591.0 C390.5,593.5 380.2,592.7 376.0,596.0 C371.8,599.3 368.8,603.5 368.0,611.0 C367.2,618.5 365.2,634.3 371.0,641.0 C376.8,647.7 396.3,647.7 403.0,651.0 C409.7,654.3 411.0,657.7 411.0,661.0 C411.0,664.3 408.8,670.2 403.0,671.0 C397.2,671.8 383.0,667.7 376.0,666.0 C369.0,664.3 363.5,675.2 361.0,661.0 C358.5,646.8 356.0,594.3 361.0,581.0Z" fill="#f8f87f"/>
<ellipse cx="578.0" cy="673.0" rx="8.0" ry="8.0" transform="rotate(0 578.0 673.0)" fill="#f8f87f"/>
<ellipse cx="620.0" cy="675.0" rx="10.0" ry="6.0" transform="rotate(0 620.0 675.0)" fill="#f8f87f"/>
<ellipse cx="830.0" cy="626.0" rx="17.0" ry="8.0" transform="rotate(15.0 830.0 626.0)" fill="#f8f87f"/>
<ellipse cx="1108.0" cy="556.0" rx="6.0" ry="6.0" transform="rotate(0 1108.0 556.0)" fill="#f8f87f"/>
<ellipse cx="1148.0" cy="543.0" rx="6.0" ry="6.0" transform="rotate(0 1148.0 543.0)" fill="#f8f87f"/>
<ellipse cx="1120.0" cy="523.0" rx="6.0" ry="6.0" transform="rotate(0 1120.0 523.0)" fill="#f8f87f"/>
<ellipse cx="1137.0" cy="516.0" rx="11.0" ry="10.0" transform="rotate(0 1137.0 516.0)" fill="#f8f87f"/>
<ellipse cx="1122.0" cy="524.0" rx="6.0" ry="6.0" transform="rotate(0 1122.0 524.0)" fill="#f8f87f"/>
<ellipse cx="1149.0" cy="543.0" rx="5.0" ry="5.0" transform="rotate(0 1149.0 543.0)" fill="#f8f87f"/>
<ellipse cx="1105.0" cy="555.0" rx="6.0" ry="6.0" transform="rotate(0 1105.0 555.0)" fill="#f8f87f"/>
<path d="M362.0,592.0 C363.0,588.0 367.2,588.7 370.0,588.0 C372.8,587.3 377.5,581.0 379.0,588.0 C380.5,595.0 380.5,623.7 379.0,630.0 C377.5,636.3 372.5,629.0 370.0,626.0 C367.5,623.0 365.3,617.7 364.0,612.0 C362.7,606.3 361.0,596.0 362.0,592.0Z" fill="#78c965"/>
<ellipse cx="1217.0" cy="476.0" rx="6.0" ry="5.0" transform="rotate(0 1217.0 476.0)" fill="#f8f87f"/>
<path d="M120.0,420.0 C123.7,416.0 153.7,407.3 162.0,404.0 C170.3,400.7 170.3,398.7 170.0,400.0 C169.7,401.3 165.0,407.3 160.0,412.0 C155.0,416.7 146.7,426.7 140.0,428.0 C133.3,429.3 116.3,424.0 120.0,420.0Z" fill="#f8f87f"/>
<ellipse cx="316.0" cy="626.0" rx="28.0" ry="11.0" transform="rotate(-40.0 316.0 626.0)" fill="#f1a068"/>
<path d="M265.0,0.0 C68.3,35.0 261.8,173.3 265.0,210.0 C268.2,246.7 281.5,216.0 284.0,220.0 C286.5,224.0 282.3,229.7 280.0,234.0 C277.7,238.3 270.0,242.0 270.0,246.0 C270.0,250.0 273.7,258.7 280.0,258.0 C286.3,257.3 304.7,240.0 308.0,242.0 C311.3,244.0 303.0,261.3 300.0,270.0 C297.0,278.7 292.3,286.7 290.0,294.0 C287.7,301.3 287.7,309.3 286.0,314.0 C284.3,318.7 284.3,321.3 280.0,322.0 C275.7,322.7 266.7,319.3 260.0,318.0 C253.3,316.7 244.7,312.0 240.0,314.0 C235.3,316.0 233.7,324.0 232.0,330.0 C230.3,336.0 229.7,343.3 230.0,350.0 C230.3,356.7 231.7,363.3 234.0,370.0 C236.3,376.7 239.7,384.7 244.0,390.0 C248.3,395.3 253.3,399.0 260.0,402.0 C266.7,405.0 277.3,406.0 284.0,408.0 C290.7,410.0 294.0,412.0 300.0,414.0 C306.0,416.0 315.0,416.5 320.0,420.0 C325.0,423.5 327.3,429.7 330.0,435.0 C332.7,440.3 334.3,447.0 336.0,452.0 C337.7,457.0 343.0,461.0 340.0,465.0 C337.0,469.0 321.7,472.2 318.0,476.0 C314.3,479.8 316.7,484.0 318.0,488.0 C319.3,492.0 322.3,494.7 326.0,500.0 C329.7,505.3 334.7,513.3 340.0,520.0 C345.3,526.7 352.3,532.7 358.0,540.0 C363.7,547.3 372.0,559.7 374.0,564.0 C376.0,568.3 367.7,566.7 370.0,566.0 C372.3,565.3 383.0,559.7 388.0,560.0 C393.0,560.3 395.0,564.0 400.0,568.0 C405.0,572.0 418.0,579.0 418.0,584.0 C418.0,589.0 404.2,592.7 400.0,598.0 C395.8,603.3 394.2,610.2 393.0,616.0 C391.8,621.8 390.0,628.8 393.0,633.0 C396.0,637.2 406.3,637.7 411.0,641.0 C415.7,644.3 418.5,648.5 421.0,653.0 C423.5,657.5 421.0,661.7 426.0,668.0 C431.0,674.3 444.0,686.3 451.0,691.0 C458.0,695.7 463.0,696.8 468.0,696.0 C473.0,695.2 476.0,689.3 481.0,686.0 C486.0,682.7 494.3,679.8 498.0,676.0 C501.7,672.2 500.0,668.8 503.0,663.0 C506.0,657.2 513.8,647.2 516.0,641.0 C518.2,634.8 518.5,630.7 516.0,626.0 C513.5,621.3 505.2,614.3 501.0,613.0 C496.8,611.7 492.7,614.2 491.0,618.0 C489.3,621.8 493.5,633.8 491.0,636.0 C488.5,638.2 481.0,631.8 476.0,631.0 C471.0,630.2 462.7,634.3 461.0,631.0 C459.3,627.7 461.0,617.7 466.0,611.0 C471.0,604.3 483.5,595.2 491.0,591.0 C498.5,586.8 503.5,587.3 511.0,586.0 C518.5,584.7 529.3,585.2 536.0,583.0 C542.7,580.8 548.2,578.3 551.0,573.0 C553.8,567.7 550.5,553.8 553.0,551.0 C555.5,548.2 561.3,557.7 566.0,556.0 C570.7,554.3 575.2,543.5 581.0,541.0 C586.8,538.5 593.5,539.0 601.0,541.0 C608.5,543.0 621.0,552.7 626.0,553.0 C631.0,553.3 626.0,545.0 631.0,543.0 C636.0,541.0 649.3,540.2 656.0,541.0 C662.7,541.8 666.0,546.0 671.0,548.0 C676.0,550.0 677.5,552.2 686.0,553.0 C694.5,553.8 711.8,552.5 722.0,553.0 C732.2,553.5 738.7,557.7 747.0,556.0 C755.3,554.3 763.7,546.0 772.0,543.0 C780.3,540.0 788.7,540.0 797.0,538.0 C805.3,536.0 814.8,532.7 822.0,531.0 C829.2,529.3 835.0,529.7 840.0,528.0 C845.0,526.3 848.3,522.7 852.0,521.0 C855.7,519.3 857.0,517.7 862.0,518.0 C867.0,518.3 872.8,520.5 882.0,523.0 C891.2,525.5 914.0,533.8 917.0,533.0 C920.0,532.2 900.2,523.0 900.0,518.0 C899.8,513.0 910.8,508.8 916.0,503.0 C921.2,497.2 928.0,488.5 931.0,483.0 C934.0,477.5 932.2,473.8 934.0,470.0 C935.8,466.2 939.3,468.3 942.0,460.0 C944.7,451.7 948.7,435.8 950.0,420.0 C951.3,404.2 946.7,376.3 950.0,365.0 C953.3,353.7 962.5,355.0 970.0,352.0 C977.5,349.0 989.2,348.0 995.0,347.0 C1000.8,346.0 997.5,348.0 1005.0,346.0 C1012.5,344.0 1024.2,339.3 1040.0,335.0 C1055.8,330.7 1081.7,320.8 1100.0,320.0 C1118.3,319.2 1131.2,322.0 1150.0,330.0 C1168.8,338.0 1202.5,352.2 1213.0,368.0 C1223.5,383.8 1210.5,413.0 1213.0,425.0 C1215.5,437.0 1221.3,436.3 1228.0,440.0 C1234.7,443.7 1245.5,448.3 1253.0,447.0 C1260.5,445.7 1268.0,437.0 1273.0,432.0 C1278.0,427.0 1278.0,420.7 1283.0,417.0 C1288.0,413.3 1296.0,412.5 1303.0,410.0 C1310.0,407.5 1315.8,405.3 1325.0,402.0 C1334.2,398.7 1338.0,393.7 1358.0,390.0 C1378.0,386.3 1430.5,445.0 1445.0,380.0 C1459.5,315.0 1641.7,63.3 1445.0,0.0 C1248.3,-63.3 461.7,-35.0 265.0,0.0Z" fill="#4f9159"/>
<path d="M258.0,320.0 C261.7,315.7 274.0,312.7 280.0,314.0 C286.0,315.3 292.0,322.7 294.0,328.0 C296.0,333.3 293.7,341.3 292.0,346.0 C290.3,350.7 288.0,354.7 284.0,356.0 C280.0,357.3 272.3,356.7 268.0,354.0 C263.7,351.3 259.7,345.7 258.0,340.0 C256.3,334.3 254.3,324.3 258.0,320.0Z" fill="#78c965"/>
<path d="M276.0,264.0 C280.0,256.0 304.0,240.3 308.0,242.0 C312.0,243.7 302.7,264.7 300.0,274.0 C297.3,283.3 294.7,295.3 292.0,298.0 C289.3,300.7 286.7,295.7 284.0,290.0 C281.3,284.3 272.0,272.0 276.0,264.0Z" fill="#78c965"/>
<path d="M984.0,350.0 C986.5,346.7 995.7,345.8 1002.0,347.0 C1008.3,348.2 1016.7,353.2 1022.0,357.0 C1027.3,360.8 1031.2,365.0 1034.0,370.0 C1036.8,375.0 1038.5,381.2 1039.0,387.0 C1039.5,392.8 1039.0,400.3 1037.0,405.0 C1035.0,409.7 1032.0,413.3 1027.0,415.0 C1022.0,416.7 1012.0,412.5 1007.0,415.0 C1002.0,417.5 1000.8,426.3 997.0,430.0 C993.2,433.7 987.3,437.8 984.0,437.0 C980.7,436.2 978.7,431.2 977.0,425.0 C975.3,418.8 973.7,407.5 974.0,400.0 C974.3,392.5 976.8,385.5 979.0,380.0 C981.2,374.5 986.2,372.0 987.0,367.0 C987.8,362.0 981.5,353.3 984.0,350.0Z" fill="#4f9159"/>
<ellipse cx="950.0" cy="521.0" rx="14.0" ry="10.0" transform="rotate(-20.0 950.0 521.0)" fill="#4f9159"/>
<path d="M900.0,518.0 C902.8,518.0 917.0,530.5 917.0,533.0 C917.0,535.5 902.8,535.5 900.0,533.0 C897.2,530.5 897.2,518.0 900.0,518.0Z" fill="#4f9159"/>
<ellipse cx="1081.0" cy="520.0" rx="10.0" ry="7.0" transform="rotate(0 1081.0 520.0)" fill="#4f9159"/>
<path d="M1158.0,440.0 C1162.2,434.5 1168.8,432.0 1175.0,432.0 C1181.2,432.0 1190.8,436.2 1195.0,440.0 C1199.2,443.8 1201.7,450.8 1200.0,455.0 C1198.3,459.2 1190.8,462.2 1185.0,465.0 C1179.2,467.8 1170.8,472.0 1165.0,472.0 C1159.2,472.0 1151.2,470.3 1150.0,465.0 C1148.8,459.7 1153.8,445.5 1158.0,440.0Z" fill="#4f9159"/>
<ellipse cx="95.0" cy="360.0" rx="15.0" ry="11.0" transform="rotate(0 95.0 360.0)" fill="#4f9159"/>
<ellipse cx="164.0" cy="354.0" rx="20.0" ry="20.0" transform="rotate(0 164.0 354.0)" fill="#4f9159"/>
<ellipse cx="184.0" cy="309.0" rx="5.0" ry="5.0" transform="rotate(0 184.0 309.0)" fill="#4f9159"/>
<ellipse cx="209.0" cy="235.0" rx="4.0" ry="4.0" transform="rotate(0 209.0 235.0)" fill="#4f9159"/>
<path d="M198.0,436.0 C201.3,433.3 217.3,433.3 222.0,436.0 C226.7,438.7 222.7,448.3 226.0,452.0 C229.3,455.7 237.3,456.0 242.0,458.0 C246.7,460.0 251.0,461.0 254.0,464.0 C257.0,467.0 260.0,472.3 260.0,476.0 C260.0,479.7 257.0,484.7 254.0,486.0 C251.0,487.3 245.3,483.0 242.0,484.0 C238.7,485.0 232.7,487.3 234.0,492.0 C235.3,496.7 247.7,506.3 250.0,512.0 C252.3,517.7 251.0,522.0 248.0,526.0 C245.0,530.0 235.7,532.3 232.0,536.0 C228.3,539.7 229.0,546.0 226.0,548.0 C223.0,550.0 216.7,550.7 214.0,548.0 C211.3,545.3 213.3,536.7 210.0,532.0 C206.7,527.3 198.0,525.3 194.0,520.0 C190.0,514.7 186.7,506.0 186.0,500.0 C185.3,494.0 187.3,487.0 190.0,484.0 C192.7,481.0 198.7,481.3 202.0,482.0 C205.3,482.7 208.7,490.3 210.0,488.0 C211.3,485.7 211.3,474.0 210.0,468.0 C208.7,462.0 204.0,457.3 202.0,452.0 C200.0,446.7 194.7,438.7 198.0,436.0Z" fill="#4f9159"/>
<ellipse cx="158.0" cy="531.0" rx="6.0" ry="6.0" transform="rotate(0 158.0 531.0)" fill="#4f9159"/>
<ellipse cx="105.0" cy="548.0" rx="8.0" ry="8.0" transform="rotate(0 105.0 548.0)" fill="#4f9159"/>
<ellipse cx="256.0" cy="566.0" rx="24.0" ry="22.0" transform="rotate(0 256.0 566.0)" fill="#4f9159"/>
<ellipse cx="312.0" cy="550.0" rx="16.0" ry="7.0" transform="rotate(-20.0 312.0 550.0)" fill="#4f9159"/>
<ellipse cx="296.0" cy="576.0" rx="9.0" ry="9.0" transform="rotate(0 296.0 576.0)" fill="#4f9159"/>
<ellipse cx="284.0" cy="598.0" rx="12.0" ry="10.0" transform="rotate(0 284.0 598.0)" fill="#4f9159"/>
<path d="M360.0,690.0 C364.3,685.3 378.7,690.3 384.0,692.0 C389.3,693.7 391.7,695.3 392.0,700.0 C392.3,704.7 389.3,713.3 386.0,720.0 C382.7,726.7 376.3,733.3 372.0,740.0 C367.7,746.7 363.7,757.0 360.0,760.0 C356.3,763.0 351.3,761.3 350.0,758.0 C348.7,754.7 350.7,746.3 352.0,740.0 C353.3,733.7 356.7,728.3 358.0,720.0 C359.3,711.7 355.7,694.7 360.0,690.0Z" fill="#4f9159"/>
<ellipse cx="543.0" cy="597.0" rx="6.0" ry="6.0" transform="rotate(0 543.0 597.0)" fill="#4f9159"/>
<ellipse cx="778.0" cy="574.0" rx="7.0" ry="7.0" transform="rotate(0 778.0 574.0)" fill="#4f9159"/>
<ellipse cx="426.0" cy="685.0" rx="7.0" ry="8.0" transform="rotate(0 426.0 685.0)" fill="#4f9159"/>
<ellipse cx="466.0" cy="707.0" rx="5.0" ry="5.0" transform="rotate(0 466.0 707.0)" fill="#4f9159"/>
<ellipse cx="544.0" cy="597.0" rx="6.0" ry="6.0" transform="rotate(0 544.0 597.0)" fill="#4f9159"/>
<path d="M298.0,0.0 C197.7,35.7 295.0,176.7 298.0,214.0 C301.0,251.3 311.7,220.3 316.0,224.0 C320.3,227.7 323.3,231.0 324.0,236.0 C324.7,241.0 322.0,248.3 320.0,254.0 C318.0,259.7 314.0,264.0 312.0,270.0 C310.0,276.0 309.0,284.0 308.0,290.0 C307.0,296.0 308.0,300.7 306.0,306.0 C304.0,311.3 297.3,315.3 296.0,322.0 C294.7,328.7 296.3,339.3 298.0,346.0 C299.7,352.7 302.3,358.0 306.0,362.0 C309.7,366.0 315.3,368.3 320.0,370.0 C324.7,371.7 329.7,370.0 334.0,372.0 C338.3,374.0 343.0,378.3 346.0,382.0 C349.0,385.7 351.7,387.7 352.0,394.0 C352.3,400.3 350.0,412.3 348.0,420.0 C346.0,427.7 341.3,430.3 340.0,440.0 C338.7,449.7 333.3,471.3 340.0,478.0 C346.7,484.7 370.7,478.3 380.0,480.0 C389.3,481.7 392.7,484.7 396.0,488.0 C399.3,491.3 398.7,493.7 400.0,500.0 C401.3,506.3 401.3,519.3 404.0,526.0 C406.7,532.7 413.3,539.3 416.0,540.0 C418.7,540.7 416.7,529.7 420.0,530.0 C423.3,530.3 430.7,538.0 436.0,542.0 C441.3,546.0 447.0,551.7 452.0,554.0 C457.0,556.3 463.3,558.0 466.0,556.0 C468.7,554.0 468.3,547.7 468.0,542.0 C467.7,536.3 463.3,526.7 464.0,522.0 C464.7,517.3 468.7,518.3 472.0,514.0 C475.3,509.7 482.0,500.7 484.0,496.0 C486.0,491.3 481.3,488.3 484.0,486.0 C486.7,483.7 495.3,484.7 500.0,482.0 C504.7,479.3 509.3,475.3 512.0,470.0 C514.7,464.7 514.7,454.0 516.0,450.0 C517.3,446.0 520.0,451.0 520.0,446.0 C520.0,441.0 517.3,429.3 516.0,420.0 C514.7,410.7 511.3,396.7 512.0,390.0 C512.7,383.3 517.3,375.7 520.0,380.0 C522.7,384.3 525.3,405.7 528.0,416.0 C530.7,426.3 533.0,437.0 536.0,442.0 C539.0,447.0 541.3,444.7 546.0,446.0 C550.7,447.3 562.3,448.7 564.0,450.0 C565.7,451.3 560.0,452.7 556.0,454.0 C552.0,455.3 544.0,454.7 540.0,458.0 C536.0,461.3 534.3,472.0 532.0,474.0 C529.7,476.0 526.7,484.0 526.0,470.0 C525.3,456.0 523.0,403.0 528.0,390.0 C533.0,377.0 549.3,393.3 556.0,392.0 C562.7,390.7 565.3,385.7 568.0,382.0 C570.7,378.3 568.3,371.0 572.0,370.0 C575.7,369.0 580.3,374.7 590.0,376.0 C599.7,377.3 620.3,376.0 630.0,378.0 C639.7,380.0 647.0,385.0 648.0,388.0 C649.0,391.0 639.7,392.3 636.0,396.0 C632.3,399.7 627.0,406.7 626.0,410.0 C625.0,413.3 625.7,416.3 630.0,416.0 C634.3,415.7 643.7,410.3 652.0,408.0 C660.3,405.7 673.3,401.0 680.0,402.0 C686.7,403.0 687.3,410.0 692.0,414.0 C696.7,418.0 702.7,424.7 708.0,426.0 C713.3,427.3 722.3,425.3 724.0,422.0 C725.7,418.7 719.3,410.0 718.0,406.0 C716.7,402.0 712.3,399.3 716.0,398.0 C719.7,396.7 731.0,397.0 740.0,398.0 C749.0,399.0 762.3,400.0 770.0,404.0 C777.7,408.0 781.0,416.7 786.0,422.0 C791.0,427.3 795.0,432.0 800.0,436.0 C805.0,440.0 810.7,444.3 816.0,446.0 C821.3,447.7 829.0,448.7 832.0,446.0 C835.0,443.3 834.7,434.3 834.0,430.0 C833.3,425.7 830.7,424.0 828.0,420.0 C825.3,416.0 822.7,409.3 818.0,406.0 C813.3,402.7 805.7,402.7 800.0,400.0 C794.3,397.3 786.7,393.3 784.0,390.0 C781.3,386.7 781.3,382.3 784.0,380.0 C786.7,377.7 795.3,374.3 800.0,376.0 C804.7,377.7 808.7,387.0 812.0,390.0 C815.3,393.0 816.7,394.7 820.0,394.0 C823.3,393.3 829.3,386.7 832.0,386.0 C834.7,385.3 837.3,387.7 836.0,390.0 C834.7,392.3 823.3,395.7 824.0,400.0 C824.7,404.3 834.0,412.3 840.0,416.0 C846.0,419.7 853.7,421.0 860.0,422.0 C866.3,423.0 875.3,424.0 878.0,422.0 C880.7,420.0 877.7,413.7 876.0,410.0 C874.3,406.3 869.0,403.3 868.0,400.0 C867.0,396.7 866.5,392.0 870.0,390.0 C873.5,388.0 882.0,390.5 889.0,388.0 C896.0,385.5 908.2,380.2 912.0,375.0 C915.8,369.8 910.0,362.0 912.0,357.0 C914.0,352.0 922.3,349.2 924.0,345.0 C925.7,340.8 924.5,335.8 922.0,332.0 C919.5,328.2 912.7,327.3 909.0,322.0 C905.3,316.7 901.5,353.7 900.0,300.0 C898.5,246.3 1000.3,50.0 900.0,0.0 C799.7,-50.0 398.3,-35.7 298.0,0.0Z" fill="#7880f2"/>
<path d="M600.0,402.0 C603.7,402.0 612.0,406.7 612.0,410.0 C612.0,413.3 603.7,422.0 600.0,422.0 C596.3,422.0 590.0,413.3 590.0,410.0 C590.0,406.7 596.3,402.0 600.0,402.0Z" fill="#7880f2"/>
<ellipse cx="284.0" cy="238.0" rx="5.0" ry="5.0" transform="rotate(0 284.0 238.0)" fill="#7880f2"/>
<ellipse cx="260.0" cy="370.0" rx="11.0" ry="7.0" transform="rotate(0 260.0 370.0)" fill="#7880f2"/>
<ellipse cx="319.0" cy="392.0" rx="7.0" ry="7.0" transform="rotate(0 319.0 392.0)" fill="#7880f2"/>
<path d="M480.0,582.0 C478.3,580.3 475.0,580.7 470.0,580.0 C465.0,579.3 456.7,577.7 450.0,578.0 C443.3,578.3 436.3,580.0 430.0,582.0 C423.7,584.0 416.2,586.2 412.0,590.0 C407.8,593.8 406.7,600.0 405.0,605.0 C403.3,610.0 402.2,615.5 402.0,620.0 C401.8,624.5 402.3,629.3 404.0,632.0 C405.7,634.7 409.0,637.0 412.0,636.0 C415.0,635.0 418.7,630.0 422.0,626.0 C425.3,622.0 427.7,616.3 432.0,612.0 C436.3,607.7 442.3,602.7 448.0,600.0 C453.7,597.3 460.7,597.7 466.0,596.0 C471.3,594.3 477.7,592.3 480.0,590.0 C482.3,587.7 481.7,583.7 480.0,582.0Z" fill="#7880f2"/>
<ellipse cx="451.0" cy="638.0" rx="5.0" ry="5.0" transform="rotate(0 451.0 638.0)" fill="#7880f2"/>
<ellipse cx="471.0" cy="675.0" rx="5.0" ry="5.0" transform="rotate(0 471.0 675.0)" fill="#7880f2"/>
<ellipse cx="592.0" cy="414.0" rx="22.0" ry="11.0" transform="rotate(0 592.0 414.0)" fill="#7880f2"/>
<ellipse cx="553.0" cy="490.0" rx="7.0" ry="9.0" transform="rotate(0 553.0 490.0)" fill="#7880f2"/>
<ellipse cx="862.0" cy="442.0" rx="12.0" ry="7.0" transform="rotate(0 862.0 442.0)" fill="#7880f2"/>
<ellipse cx="839.0" cy="466.0" rx="7.0" ry="8.0" transform="rotate(0 839.0 466.0)" fill="#7880f2"/>
<path d="M1213.0,370.0 C1213.0,366.2 1227.2,353.5 1233.0,347.0 C1238.8,340.5 1243.0,332.2 1248.0,331.0 C1253.0,329.8 1259.3,336.8 1263.0,340.0 C1266.7,343.2 1270.0,344.7 1270.0,350.0 C1270.0,355.3 1267.2,367.5 1263.0,372.0 C1258.8,376.5 1250.0,377.3 1245.0,377.0 C1240.0,376.7 1238.3,371.2 1233.0,370.0 C1227.7,368.8 1213.0,373.8 1213.0,370.0Z" fill="#7880f2"/>
<path d="M1345.0,0.0 C1348.3,-2.5 1359.2,180.8 1365.0,217.0 C1370.8,253.2 1375.3,215.3 1380.0,217.0 C1384.7,218.7 1390.5,221.5 1393.0,227.0 C1395.5,232.5 1396.7,245.3 1395.0,250.0 C1393.3,254.7 1387.2,252.5 1383.0,255.0 C1378.8,257.5 1374.2,260.8 1370.0,265.0 C1365.8,269.2 1361.3,275.0 1358.0,280.0 C1354.7,285.0 1352.5,290.0 1350.0,295.0 C1347.5,300.0 1345.8,303.3 1343.0,310.0 C1340.2,316.7 1336.3,331.7 1333.0,335.0 C1329.7,338.3 1327.2,330.8 1323.0,330.0 C1318.8,329.2 1311.0,331.7 1308.0,330.0 C1305.0,328.3 1303.3,322.5 1305.0,320.0 C1306.7,317.5 1312.2,318.3 1318.0,315.0 C1323.8,311.7 1335.5,313.8 1340.0,300.0 C1344.5,286.2 1344.2,282.0 1345.0,232.0 C1345.8,182.0 1341.7,2.5 1345.0,0.0Z" fill="#7880f2"/>
<ellipse cx="347.0" cy="303.0" rx="7.0" ry="8.0" transform="rotate(0 347.0 303.0)" fill="#4f9159"/>
<path d="M322.0,342.0 C323.7,337.0 340.7,320.0 346.0,316.0 C351.3,312.0 351.7,314.7 354.0,318.0 C356.3,321.3 355.7,332.7 360.0,336.0 C364.3,339.3 376.3,335.7 380.0,338.0 C383.7,340.3 384.0,346.7 382.0,350.0 C380.0,353.3 372.3,358.3 368.0,358.0 C363.7,357.7 361.3,350.0 356.0,348.0 C350.7,346.0 341.7,347.0 336.0,346.0 C330.3,345.0 320.3,347.0 322.0,342.0Z" fill="#4f9159"/>
<path d="M392.0,350.0 C393.3,348.3 400.0,352.3 404.0,350.0 C408.0,347.7 412.3,338.0 416.0,336.0 C419.7,334.0 422.0,335.0 426.0,338.0 C430.0,341.0 438.0,349.3 440.0,354.0 C442.0,358.7 441.3,363.7 438.0,366.0 C434.7,368.3 424.7,369.0 420.0,368.0 C415.3,367.0 414.0,361.3 410.0,360.0 C406.0,358.7 399.0,361.7 396.0,360.0 C393.0,358.3 390.7,351.7 392.0,350.0Z" fill="#4f9159"/>
<ellipse cx="407.0" cy="380.0" rx="13.0" ry="8.0" transform="rotate(0 407.0 380.0)" fill="#4f9159"/>
<ellipse cx="453.0" cy="396.0" rx="17.0" ry="10.0" transform="rotate(0 453.0 396.0)" fill="#4f9159"/>
<ellipse cx="484.0" cy="382.0" rx="16.0" ry="8.0" transform="rotate(0 484.0 382.0)" fill="#4f9159"/>
<ellipse cx="488.0" cy="405.0" rx="6.0" ry="6.0" transform="rotate(0 488.0 405.0)" fill="#4f9159"/>
<ellipse cx="421.0" cy="423.0" rx="17.0" ry="11.0" transform="rotate(0 421.0 423.0)" fill="#4f9159"/>
<ellipse cx="469.0" cy="429.0" rx="7.0" ry="9.0" transform="rotate(0 469.0 429.0)" fill="#4f9159"/>
<ellipse cx="404.0" cy="449.0" rx="8.0" ry="8.0" transform="rotate(0 404.0 449.0)" fill="#4f9159"/>
<ellipse cx="464.0" cy="452.0" rx="8.0" ry="7.0" transform="rotate(0 464.0 452.0)" fill="#4f9159"/>
<ellipse cx="404.0" cy="380.0" rx="13.0" ry="10.0" transform="rotate(0 404.0 380.0)" fill="#4f9159"/>
<ellipse cx="452.0" cy="394.0" rx="16.0" ry="10.0" transform="rotate(0 452.0 394.0)" fill="#4f9159"/>
<ellipse cx="488.0" cy="404.0" rx="6.0" ry="6.0" transform="rotate(0 488.0 404.0)" fill="#4f9159"/>
<ellipse cx="420.0" cy="423.0" rx="18.0" ry="11.0" transform="rotate(0 420.0 423.0)" fill="#4f9159"/>
<ellipse cx="469.0" cy="430.0" rx="7.0" ry="10.0" transform="rotate(0 469.0 430.0)" fill="#4f9159"/>
<ellipse cx="404.0" cy="450.0" rx="8.0" ry="8.0" transform="rotate(0 404.0 450.0)" fill="#4f9159"/>
<ellipse cx="462.0" cy="454.0" rx="9.0" ry="7.0" transform="rotate(0 462.0 454.0)" fill="#4f9159"/>
<ellipse cx="480.0" cy="382.0" rx="16.0" ry="9.0" transform="rotate(0 480.0 382.0)" fill="#4f9159"/>
<ellipse cx="428.0" cy="352.0" rx="14.0" ry="16.0" transform="rotate(0 428.0 352.0)" fill="#4f9159"/>
<ellipse cx="396.0" cy="354.0" rx="6.0" ry="5.0" transform="rotate(0 396.0 354.0)" fill="#4f9159"/>
<ellipse cx="370.0" cy="346.0" rx="13.0" ry="8.0" transform="rotate(0 370.0 346.0)" fill="#4f9159"/>
<path d="M340.0,380.0 C342.0,370.0 350.0,371.7 352.0,380.0 C354.0,388.3 354.0,420.0 352.0,430.0 C350.0,440.0 342.0,448.3 340.0,440.0 C338.0,431.7 338.0,390.0 340.0,380.0Z" fill="#4f9159"/>
<ellipse cx="661.0" cy="341.0" rx="8.0" ry="8.0" transform="rotate(0 661.0 341.0)" fill="#4f9159"/>
<path d="M840.0,324.0 C842.0,324.0 849.2,328.3 850.0,330.0 C850.8,331.7 847.0,334.0 845.0,334.0 C843.0,334.0 838.8,331.7 838.0,330.0 C837.2,328.3 838.0,324.0 840.0,324.0Z" fill="#4f9159"/>
<path d="M485.0,374.0 C487.5,371.3 494.2,373.0 500.0,374.0 C505.8,375.0 518.0,376.5 520.0,380.0 C522.0,383.5 515.3,393.0 512.0,395.0 C508.7,397.0 504.5,392.8 500.0,392.0 C495.5,391.2 487.5,393.0 485.0,390.0 C482.5,387.0 482.5,376.7 485.0,374.0Z" fill="#4f9159"/>
<path d="M510.0,382.0 C512.7,379.0 525.3,375.7 528.0,382.0 C530.7,388.3 528.0,412.7 526.0,420.0 C524.0,427.3 518.3,429.3 516.0,426.0 C513.7,422.7 513.0,407.3 512.0,400.0 C511.0,392.7 507.3,385.0 510.0,382.0Z" fill="#4f9159"/>
<path d="M361.0,200.0 C276.7,204.3 360.2,221.3 364.0,226.0 C367.8,230.7 379.3,226.3 384.0,228.0 C388.7,229.7 392.0,232.3 392.0,236.0 C392.0,239.7 385.3,246.0 384.0,250.0 C382.7,254.0 382.7,258.3 384.0,260.0 C385.3,261.7 389.3,263.0 392.0,260.0 C394.7,257.0 396.0,244.3 400.0,242.0 C404.0,239.7 411.0,246.3 416.0,246.0 C421.0,245.7 426.0,241.7 430.0,240.0 C434.0,238.3 435.7,236.0 440.0,236.0 C444.3,236.0 453.3,237.0 456.0,240.0 C458.7,243.0 453.7,252.7 456.0,254.0 C458.3,255.3 464.3,248.7 470.0,248.0 C475.7,247.3 483.3,250.3 490.0,250.0 C496.7,249.7 506.3,243.7 510.0,246.0 C513.7,248.3 510.3,260.0 512.0,264.0 C513.7,268.0 515.2,270.7 520.0,270.0 C524.8,269.3 534.2,260.8 541.0,260.0 C547.8,259.2 556.5,265.8 561.0,265.0 C565.5,264.2 566.8,258.0 568.0,255.0 C569.2,252.0 563.0,248.0 568.0,247.0 C573.0,246.0 590.8,245.2 598.0,249.0 C605.2,252.8 606.8,265.3 611.0,270.0 C615.2,274.7 616.8,276.7 623.0,277.0 C629.2,277.3 640.0,274.5 648.0,272.0 C656.0,269.5 666.0,265.3 671.0,262.0 C676.0,258.7 673.2,253.7 678.0,252.0 C682.8,250.3 694.3,251.7 700.0,252.0 C705.7,252.3 709.0,248.3 712.0,254.0 C715.0,259.7 715.0,276.0 718.0,286.0 C721.0,296.0 725.7,307.7 730.0,314.0 C734.3,320.3 739.0,324.0 744.0,324.0 C749.0,324.0 754.0,318.3 760.0,314.0 C766.0,309.7 773.3,301.0 780.0,298.0 C786.7,295.0 794.0,294.7 800.0,296.0 C806.0,297.3 811.0,305.0 816.0,306.0 C821.0,307.0 827.0,305.0 830.0,302.0 C833.0,299.0 831.5,292.0 834.0,288.0 C836.5,284.0 839.0,281.0 845.0,278.0 C851.0,275.0 865.8,283.0 870.0,270.0 C874.2,257.0 954.8,211.7 870.0,200.0 C785.2,188.3 445.3,195.7 361.0,200.0Z" fill="#4a3e52"/>
<ellipse cx="677.0" cy="304.0" rx="11.0" ry="13.0" transform="rotate(20.0 677.0 304.0)" fill="#4a3e52"/>
<ellipse cx="799.0" cy="312.0" rx="6.0" ry="10.0" transform="rotate(0 799.0 312.0)" fill="#4a3e52"/>
<ellipse cx="452.0" cy="272.0" rx="9.0" ry="9.0" transform="rotate(0 452.0 272.0)" fill="#4a3e52"/>
<ellipse cx="466.0" cy="293.0" rx="5.0" ry="5.0" transform="rotate(0 466.0 293.0)" fill="#4a3e52"/>
<ellipse cx="460.0" cy="312.0" rx="4.0" ry="4.0" transform="rotate(0 460.0 312.0)" fill="#4a3e52"/>
<ellipse cx="504.0" cy="333.0" rx="5.0" ry="5.0" transform="rotate(0 504.0 333.0)" fill="#4a3e52"/>
<ellipse cx="307.0" cy="326.0" rx="7.0" ry="7.0" transform="rotate(0 307.0 326.0)" fill="#4a3e52"/>
<ellipse cx="469.0" cy="470.0" rx="7.0" ry="7.0" transform="rotate(0 469.0 470.0)" fill="#4a3e52"/>
<ellipse cx="457.0" cy="520.0" rx="5.0" ry="6.0" transform="rotate(0 457.0 520.0)" fill="#4a3e52"/>
<path d="M340.0,362.0 C342.0,360.7 348.0,360.7 352.0,362.0 C356.0,363.3 360.0,370.3 364.0,370.0 C368.0,369.7 372.0,360.7 376.0,360.0 C380.0,359.3 387.3,363.0 388.0,366.0 C388.7,369.0 382.0,374.0 380.0,378.0 C378.0,382.0 375.7,384.7 376.0,390.0 C376.3,395.3 380.7,403.7 382.0,410.0 C383.3,416.3 386.0,423.0 384.0,428.0 C382.0,433.0 374.3,439.7 370.0,440.0 C365.7,440.3 359.7,435.0 358.0,430.0 C356.3,425.0 359.0,416.7 360.0,410.0 C361.0,403.3 365.3,395.0 364.0,390.0 C362.7,385.0 356.0,383.3 352.0,380.0 C348.0,376.7 342.0,373.0 340.0,370.0 C338.0,367.0 338.0,363.3 340.0,362.0Z" fill="#4a3e52"/>
<path d="M1350.0,217.0 C1353.2,215.3 1364.5,218.2 1365.0,222.0 C1365.5,225.8 1356.2,235.3 1353.0,240.0 C1349.8,244.7 1347.2,251.3 1346.0,250.0 C1344.8,248.7 1345.3,237.5 1346.0,232.0 C1346.7,226.5 1346.8,218.7 1350.0,217.0Z" fill="#4a3e52"/>
</g>
<g fill="#fff" stroke="#111" stroke-width="1.6" stroke-linejoin="round">
<path d="M953,351 L962,346 L978,344 L991,347 L987,360 L982,374 L980,385 L973,376 L967,387 L964,407 L962,428 L967,443 L973,459 L971,482 L958,495 L944,495 L940,486 L935,468 L933,450 L933,423 L937,396 L944,374 L953,364Z"/><path d="M924,396 L937,378 L946,369 L944,376 L933,392 L926,398Z"/><path d="M1252,527 L1245,534 L1245,548 L1247,563 L1254,576 L1237,573 L1252,578 L1256,583 L1255,594 L1260,604 L1258,612 L1262,617 L1270,606 L1270,604 L1269,594 L1272,578 L1267,578 L1262,569 L1254,563 L1254,552 L1250,537Z"/><path d="M1305,466 L1320,458 L1345,447 L1340,452 L1318,465 L1306,470Z"/>
</g>
<path d="M62,180 L63,176 L78,186 L90,188 L98,192 L106,196 L110,205 L105,208 L98,216 L96,228 L103,223 L108,216 L111,205 L116,191 L116,183 L113,170 L115,166 L170,180 L244,198 L300,210 L361,222 L450,236 L541,245 L611,249 L698,252 L745,252 L745,240 L753,240 L756,260 L772,265 L790,266 L815,274 L845,278 L872,282 L850,300 L835,314 L820,328 L845,320 L850,329 L862,332 L882,325 L897,312 L920,297 L922,301 L907,320 L920,323 L937,328 L962,322 L985,315 L988,322 L1010,321 L1012,332 L1026,336 L1004,342 L1000,346 L1008,348 L1025,356 L1035,368 L1039,391 L1033,408 L1029,414 L1037,416 L1045,404 L1054,402 L1062,420 L1066,445 L1058,458 L1050,481 L1066,489 L1077,489 L1108,472 L1139,450 L1155,431 L1153,416 L1158,410 L1186,405 L1213,398 L1213,370 L1233,348 L1248,331 L1278,325 L1320,315 L1323,302 L1333,300 L1338,280 L1340,262 L1345,248 L1350,218 L1356,217 L1370,216 L1382,218 L1393,228 L1398,265 L1410,268 L1418,280 L1430,290 L1418,305 L1405,312 L1395,328 L1378,340 L1370,350 L1358,370 L1355,383 L1363,390 L1358,400 L1365,408 L1373,415 L1388,410 L1383,420 L1370,422 L1358,422 L1358,430 L1348,430 L1345,438 L1308,450 L1300,460 L1298,480 L1295,500 L1298,511 L1294,522 L1290,531 L1285,538 L1275,532 L1267,527 L1266,531 L1275,540 L1283,547 L1285,563 L1283,575 L1277,594 L1273,605 L1270,606 L1266,612 L1262,617 L1270,620 L1278,626 L1283,641 L1290,656 L1280,673 L1275,686 L1245,711 L1238,731 L1223,733 L1208,751 L1200,773 L1187,786 L1175,796 L1166,806 L1161,823 L1158,846 L1158,855 L1166,873 L1183,909 L1199,930 L1222,973 L1224,1008 L1222,1040 L1199,1044 L1177,1021 L1158,998 L1158,988 L1145,986 L1137,971 L1141,958 L1131,961 L1131,930 L1125,917 L1108,907 L1096,892 L1077,888 L1062,900 L1048,906 L1022,887 L997,887 L972,892 L962,884 L947,894 L927,897 L917,914 L929,922 L934,932 L919,927 L902,934 L882,942 L857,929 L842,922 L812,922 L784,922 L759,924 L754,942 L722,962 L711,969 L693,977 L686,992 L676,1007 L683,1022 L688,1052 L668,1052 L648,1044 L628,1034 L618,1009 L613,984 L591,962 L581,942 L566,922 L551,914 L531,914 L518,929 L508,939 L501,937 L486,927 L466,907 L461,882 L443,862 L423,839 L416,828 L366,829 L366,842 L342,840 L285,833 L260,821 L205,788 L182,772 L180,765 L115,758 L112,746 L107,726 L92,711 L87,701 L70,688 L50,673 L35,661 L32,641 L25,616 L17,588 L22,576 L10,561 L17,552 L12,543 L17,533 L2,526 L2,511 L0,467 L2,450 L7,425 L10,387 L11,375 L15,357 L25,340 L42,305 L56,270 L60,252 L64,240 L66,225 L67,202Z" fill="none" stroke="#111" stroke-width="2" stroke-linejoin="round"/>
<g fill="none" stroke="#1a1a1a" stroke-width="1.4" stroke-linejoin="round">
<path d="M60,252 L85,267 L86,277 L107,282 L120,288 L150,287 L190,292 L224,300"/><path d="M244,198 L224,300"/><path d="M224,300 L232,312 L220,332 L207,347 L205,362 L192,435"/><path d="M10,390 L116,419 L192,437 L338,464"/><path d="M116,415 L92,511 L202,686"/><path d="M265,205 L260,235 L265,260 L285,290 L280,325 L292,327 L300,355 L310,372 L340,370 L355,362"/><path d="M340,462 L337,499 L388,505 L386,511 L368,646"/><path d="M355,362 L337,499"/><path d="M361,362 L528,382"/><path d="M541,245 L533,350 L528,382 L523,452 L519,521 L568,526 L561,663"/><path d="M533,350 L713,357"/><path d="M698,252 L706,305 L713,357 L708,367 L716,380 L716,442"/><path d="M523,452 L661,460 L676,466 L711,475 L721,490 L730,520 L732,543 L744,563 L752,571 L762,593 L764,671"/><path d="M567,560 L744,563"/><path d="M266,452 L235,623"/><path d="M232,623 L368,646 L533,663 L722,670 L764,671"/><path d="M232,625 L230,646 L210,651 L207,671 L202,686 L212,713 L192,741 L192,761 L182,772"/><path d="M368,646 L342,840"/><path d="M533,663 L531,681 L521,836"/><path d="M416,828 L521,836"/><path d="M531,681 L616,681 L616,686 L613,753 L621,759 L633,759 L643,767 L676,777 L693,779 L722,782 L747,777 L769,787 L772,789"/><path d="M764,671 L764,686 L772,789"/><path d="M764,686 L887,683 L882,698 L902,698"/><path d="M782,789 L783,808 L867,806"/><path d="M772,789 L782,789 L784,847 L797,877 L792,922"/><path d="M857,872 L912,874 L919,894"/><path d="M716,442 L847,441"/><path d="M820,328 L807,355 L802,370 L807,390 L822,402 L839,417 L847,440 L852,467 L864,472 L869,485 L857,511 L847,536 L839,542 L729,543"/><path d="M839,542 L847,551 L844,561 L852,576 L872,598 L882,598 L879,618 L897,636 L907,646 L914,663 L907,676 L902,696"/><path d="M864,472 L933,469"/><path d="M900,347 L920,354 L927,368 L931,383"/><path d="M862,332 L880,338 L900,347"/><path d="M943,497 L952,598 L942,628"/><path d="M945,497 L1014,487 L1050,482"/><path d="M1014,487 L1024,578"/><path d="M914,663 L932,658 L942,641 L942,628 L957,626 L972,623 L987,616 L999,611 L1009,596 L1024,588 L1041,584 L1056,590 L1070,586 L1087,590 L1099,576 L1108,562 L1124,541 L1130,512 L1122,464"/><path d="M1132,538 L1130,512"/><path d="M1141,460 L1122,464"/><path d="M1083,588 L1105,623 L1125,631 L1148,611 L1158,593 L1165,578 L1190,546 L1198,536 L1193,533 L1183,546 L1165,551 L1163,536 L1133,541 L1132,538"/><path d="M1193,533 L1208,546 L1233,553 L1228,571 L1243,576 L1255,581"/><path d="M1133,538 L1258,518"/><path d="M1260,518 L1273,558 L1285,558"/><path d="M1268,457 L1278,482 L1268,500 L1263,511 L1258,518"/><path d="M1268,457 L1298,470"/><path d="M1140,460 L1250,440 L1268,457"/><path d="M1278,325 L1298,395 L1300,425 L1303,460"/><path d="M1320,315 L1315,395"/><path d="M1330,305 L1358,372"/><path d="M1298,400 L1358,380"/><path d="M1298,425 L1343,417"/><path d="M1340,417 L1345,437"/><path d="M914,678 L947,676 L947,671 L1083,658 L1120,653 L1278,626"/><path d="M1105,623 L1120,653"/><path d="M1120,653 L1108,673 L1085,691 L1067,698 L1057,716"/><path d="M887,733 L947,731 L1022,723 L1083,716 L1085,718 L1145,703 L1153,711 L1183,706 L1223,733"/><path d="M902,698 L892,731 L877,756 L867,786 L869,811 L862,836 L857,872"/><path d="M949,731 L952,892"/><path d="M1019,723 L1047,811 L1050,859 L1056,869 L1137,865 L1141,856 L1158,855"/><path d="M977,867 L1050,859"/><path d="M977,867 L980,890"/><path d="M1085,723 L1108,741 L1145,776 L1165,806"/><path d="M388,505 L519,521"/>
</g>
<ellipse cx="1186" cy="1061" rx="6.5" ry="2.6" transform="rotate(-35 1186 1061)" fill="#fff" stroke="#222" stroke-width="1.4"/>
<ellipse cx="898" cy="279" rx="8" ry="2.5" transform="rotate(-32 898 279)" fill="#222"/>
<rect x="0" y="1081" width="1445" height="16" fill="#000"/>
<text transform="translate(85.8 1219) scale(0.949 1)" x="-2.15" y="0" font-family="Liberation Sans, sans-serif" font-weight="bold" font-size="68.8" fill="#000">Z</text>
<text transform="translate(124.9 1219) scale(0.947 1)" x="-3.22" y="0" font-family="Liberation Sans, sans-serif" font-weight="bold" font-size="68.8" fill="#000">O</text>
<text transform="translate(177.2 1219) scale(0.894 1)" x="-4.30" y="0" font-family="Liberation Sans, sans-serif" font-weight="bold" font-size="68.8" fill="#000">N</text>
<text transform="translate(223.7 1219) scale(0.773 1)" x="-4.30" y="0" font-family="Liberation Sans, sans-serif" font-weight="bold" font-size="68.8" fill="#000">E</text>
<text transform="translate(258.6 1219) scale(0.832 1)" x="-2.15" y="0" font-family="Liberation Sans, sans-serif" font-weight="bold" font-size="68.8" fill="#000">S</text>
<text transform="translate(297.6 1219) scale(0.941 1)" x="-6.45" y="0" font-family="Liberation Sans, sans-serif" font-weight="bold" font-size="68.8" fill="#000">:</text>
<g>
<rect x="384" y="1145" width="75" height="54" fill="#4a3e52"/>
<rect x="505" y="1145" width="75" height="54" fill="#7880f2"/>
<rect x="624" y="1145" width="75" height="54" fill="#4f9159"/>
<rect x="745" y="1145" width="75" height="54" fill="#78c965"/>
<rect x="865" y="1145" width="75" height="54" fill="#f8f87f"/>
<rect x="985" y="1145" width="75" height="54" fill="#f1a068"/>
<rect x="1105" y="1145" width="75" height="54" fill="#df7d53"/>
<rect x="1226" y="1145" width="76" height="54" fill="#f4b8b9"/>
</g>
<g font-family="Liberation Sans, sans-serif" font-size="56" fill="#000" stroke="#000" stroke-width="1.7" text-anchor="middle">
<text x="421" y="1259">3</text><text x="544" y="1259">4</text><text x="660" y="1259">5</text>
<text x="783" y="1259">6</text><text x="905" y="1259">7</text><text x="1024" y="1259">8</text>
<text x="1143" y="1259">9</text><text x="1262" y="1259">10</text>
</g>
</svg>
</body></html>
